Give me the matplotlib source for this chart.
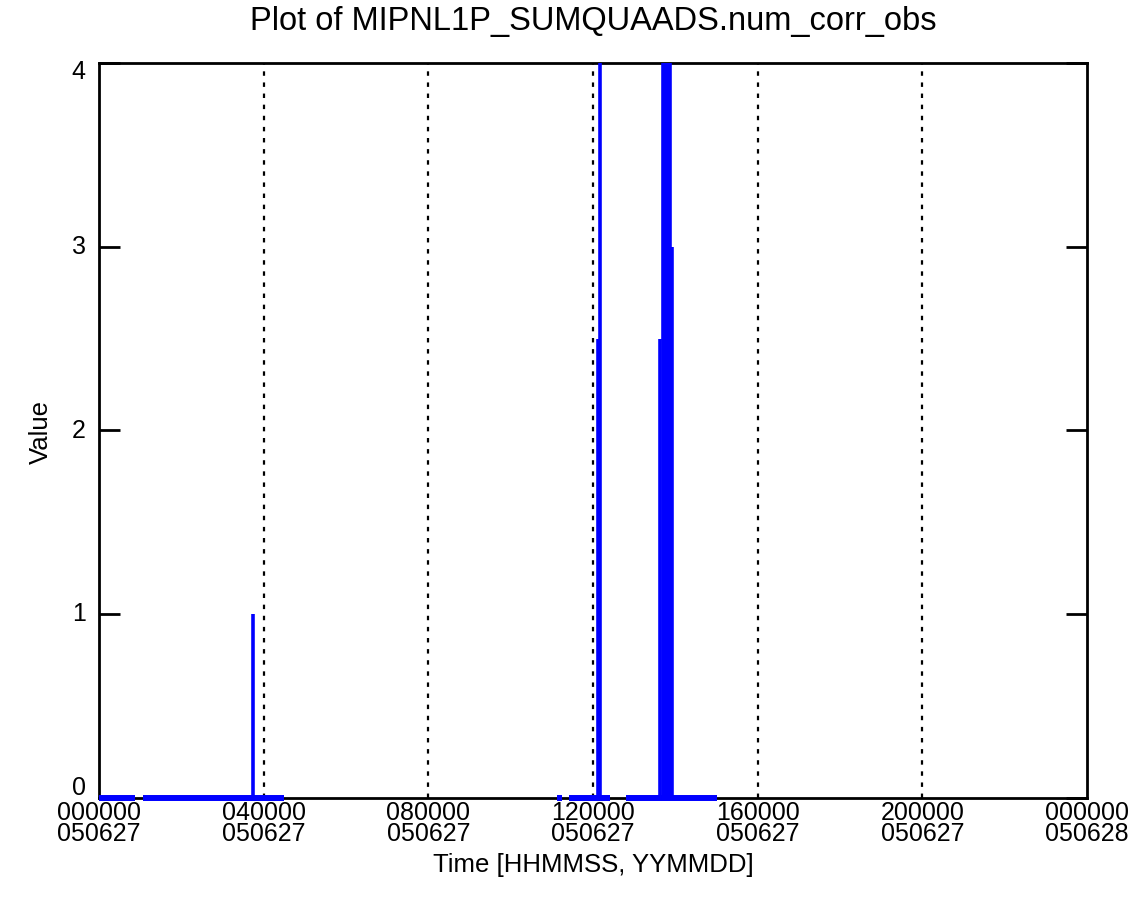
import numpy as np
import matplotlib
matplotlib.use("Agg")
import matplotlib.pyplot as plt

# ---- data (hours since 000000 050627) ----
seg_start = [0.00, 1.07, 11.12, 11.42, 12.80]
seg_end = [0.87, 4.49, 11.25, 12.41, 15.01]
spike_times = [3.74, 12.12, 12.17, 13.63, 13.70, 13.74, 13.79, 13.84, 13.87, 13.92]
spike_values = [1.0, 2.5, 4.0, 2.5, 4.0, 4.0, 4.0, 4.0, 4.0, 3.0]

xtick_hours = [0, 4, 8, 12, 16, 20, 24]
xtick_time = ["000000", "040000", "080000", "120000", "160000", "200000", "000000"]
xtick_date = ["050627", "050627", "050627", "050627", "050627", "050627", "050628"]
grid_hours = [4, 8, 12, 16, 20]
yticks = [0, 1, 2, 3, 4]

plt.rcParams['font.family'] = ["Liberation Sans", "DejaVu Sans"]

fig = plt.figure(figsize=(11.44, 9.22), dpi=100)
ax = fig.add_axes([99/1144, 1-798/922, (1087-99)/1144, (798-63)/922])

for g in grid_hours:
    ax.axvline(g, color='black', lw=1.6, linestyle=(0, (2, 3)), zorder=1)

bx, by = [], []
for s, e in zip(seg_start, seg_end):
    bx += [s, e, np.nan]
    by += [0, 0, np.nan]
ax.plot(bx, by, color='#0000ff', lw=4.3, solid_capstyle='butt', clip_on=False, zorder=3)
ax.vlines(spike_times, 0, spike_values, color='#0000ff', lw=2.6, clip_on=False, zorder=3)

ax.set_xlim(0, 24)
ax.set_ylim(0, 4)
ax.set_xticks(xtick_hours)
ax.set_xticklabels([])
ax.set_yticks(yticks)
ax.set_yticklabels([])
ax.tick_params(axis='x', length=0)
ax.tick_params(axis='y', direction='in', length=15, width=2, left=True, right=True)
for sp in ax.spines.values():
    sp.set_linewidth(2)

# x tick labels (two lines each, one text object)
for h, t, d in zip(xtick_hours, xtick_time, xtick_date):
    ax.annotate(t + "\n" + d, xy=(h, 0), xycoords=('data', 'axes fraction'),
                xytext=(0, -2.5), textcoords='offset points',
                ha='center', va='top', fontsize=18, linespacing=0.8)

# y tick labels (IDL-style: end labels nudged inward)
for v in yticks:
    if v == 0:
        ax.annotate(str(v), xy=(0, v), xycoords=('axes fraction', 'data'),
                    xytext=(-9.5, -1.5), textcoords='offset points',
                    ha='right', va='bottom', fontsize=18)
    else:
        ax.annotate(str(v), xy=(0, v), xycoords=('axes fraction', 'data'),
                    xytext=(-9.5, -6.5 if v == 4 else 0), textcoords='offset points',
                    ha='right', va='center', fontsize=18)

ax.set_title("Plot of MIPNL1P_SUMQUAADS.num_corr_obs", fontsize=23.5, pad=24)
fig.text(593/1144, 1-865/922, "Time [HHMMSS, YYMMDD]", ha='center', va='center', fontsize=18.5)
fig.text(41/1144, 1-432/922, "Value", ha='center', va='center', rotation=90, fontsize=18.5)

fig.savefig("out.png", dpi=100)
